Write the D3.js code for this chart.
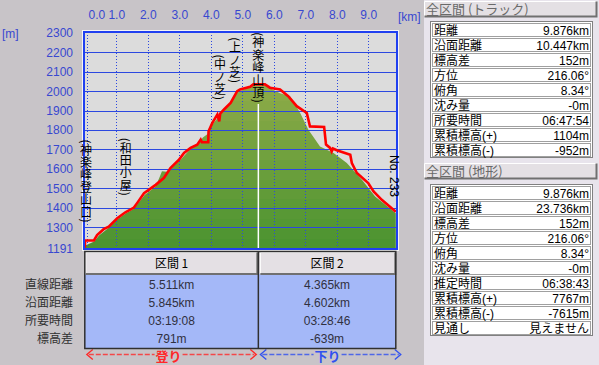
<!DOCTYPE html>
<html>
<head>
<meta charset="utf-8">
<script src="https://cdn.jsdelivr.net/npm/d3@7"></script>
<style>
  body { margin: 0; background: #c8c4c8; overflow: hidden; }
  text { font-family: "Noto Sans CJK JP", sans-serif; font-size: 12px; }
  .num { font-family: "Liberation Sans", Arial, sans-serif; }
  .cell { font-family: "Liberation Sans", "Noto Sans CJK JP", sans-serif; }
  .vert { writing-mode: vertical-rl; text-orientation: mixed; }
</style>
</head>
<body>
<div id="chart"></div>
<script>
const width = 599, height = 365;

// axis ticks
const kmTicks = [0, 1, 2, 3, 4, 5, 6, 7, 8, 9];
const elevTicks = [1191, 1300, 1400, 1500, 1600, 1700, 1800, 1900, 2000, 2100, 2200, 2300];
const totalKm = 9.876;

// GPS track (km, m)
const trackKm = [0, 0.01, 0.29, 0.39, 0.6, 0.76, 1.03, 1.29, 1.56, 1.66, 1.88, 2.03, 2.25, 2.51, 2.72, 2.99,
  3.15, 3.36, 3.57, 3.68, 3.72, 3.92, 3.93, 4.05, 4.21, 4.27, 4.3, 4.42, 4.63, 4.84, 4.93, 5.25, 5.35, 5.72,
  5.88, 6.2, 6.46, 6.73, 7.05, 7.15, 7.6, 7.66, 7.79, 7.84, 7.88, 8.0, 8.43, 8.48, 8.64, 9.0, 9.17, 9.43, 9.876];
const trackElev = [1195, 1232, 1232, 1260, 1290, 1303, 1346, 1377, 1401, 1424, 1475, 1492, 1518, 1553, 1604, 1647,
  1682, 1708, 1725, 1751, 1737, 1737, 1794, 1837, 1880, 1845, 1885, 1906, 1940, 2000, 2009, 2023, 2035, 2035,
  2018, 2009, 1974, 1923, 1888, 1819, 1816, 1725, 1708, 1690, 1705, 1696, 1673, 1630, 1579, 1527, 1484, 1441, 1380];

// terrain profile (km, m)
const groundKm = [0, 0.3, 0.45, 0.75, 1.0, 1.3, 1.55, 1.9, 2.25, 2.38, 2.45, 2.6, 2.72, 3.0, 3.35, 3.6, 3.75,
  3.9, 4.05, 4.4, 4.6, 4.85, 5.1, 5.35, 5.7, 5.95, 6.2, 6.52, 6.68, 6.84, 7.1, 7.47, 7.9, 8.32, 8.8, 9.22, 9.876];
const groundElev = [1205, 1226, 1258, 1296, 1336, 1370, 1394, 1466, 1510, 1560, 1588, 1586, 1598, 1640, 1702, 1728, 1762,
  1780, 1828, 1898, 1933, 1993, 2012, 2030, 2030, 2010, 1990, 1974, 1931, 1888, 1802, 1716, 1682, 1630, 1544, 1458, 1372];

// waypoints
const pointNames = ["(神楽峰登山口)", "(和田小屋)", "(中ノ芝)", "(上ノ芝)", "(神楽峰山頂)"];
const pointKm = [0.04, 1.3, 4.29, 4.77, 5.511];
const pointTop = [1751, 1761, 2189, 2277, 2303];
const splitKm = 5.511;
const endLabel = "No. 233";

// right panel
const trackTitle = "全区間 (トラック)";
const trackRows = ["距離", "沿面距離", "標高差", "方位", "俯角", "沈み量", "所要時間", "累積標高(+)", "累積標高(-)"];
const trackVals = ["9.876km", "10.447km", "152m", "216.06°", "8.34°", "-0m", "06:47:54", "1104m", "-952m"];
const groundTitle = "全区間 (地形)";
const groundRows = ["距離", "沿面距離", "標高差", "方位", "俯角", "沈み量", "推定時間", "累積標高(+)", "累積標高(-)", "見通し"];
const groundVals = ["9.876km", "23.736km", "152m", "216.06°", "8.34°", "-0m", "06:38:43", "7767m", "-7615m", "見えません"];

// section table
const sectionNames = ["区間 1", "区間 2"];
const sectionStart = [0, 5.511];
const sectionEnd = [5.511, totalKm];
const sectionRows = ["直線距離", "沿面距離", "所要時間", "標高差"];
const section1Vals = ["5.511km", "5.845km", "03:19:08", "791m"];
const section2Vals = ["4.365km", "4.602km", "03:28:46", "-639m"];
const sectionDirs = ["登り", "下り"];
const sectionColors = ["#ff2828", "#3050f0"];

const blue = "#2c48e0";
const tickBlue = "#3848d0";

const svg = d3.select("#chart").append("svg")
  .attr("width", width)
  .attr("height", height)
  .style("display", "block");

svg.append("rect").attr("width", width).attr("height", height).attr("fill", "#c8c4c8");

const xScale = d3.scaleLinear().domain([0, totalKm]).range([84.8, 395.8]);
const yScale = d3.scaleLinear().domain([1191, 2300]).range([248.4, 32.9]);

const plotL = 84, plotR = 397, plotT = 32, plotB = 249;

// plot background
svg.append("rect")
  .attr("x", plotL - 1.5).attr("y", plotT - 1.5)
  .attr("width", plotR - plotL + 3).attr("height", plotB - plotT + 3)
  .attr("fill", "none").attr("stroke", "#f4f4f4");
svg.append("rect")
  .attr("x", plotL).attr("y", plotT)
  .attr("width", plotR - plotL).attr("height", plotB - plotT)
  .attr("fill", "#dcdcdc");

svg.append("clipPath").attr("id", "plotclip")
  .append("rect").attr("x", plotL).attr("y", plotT).attr("width", plotR - plotL).attr("height", plotB - plotT);

// stepped green bands
const defs = svg.append("defs");
const grad = defs.append("linearGradient")
  .attr("id", "greenBands")
  .attr("gradientUnits", "userSpaceOnUse")
  .attr("x1", 0).attr("x2", 0)
  .attr("y1", yScale(2100)).attr("y2", yScale(1191));
const nBands = 18;
const bandColor = d3.interpolateRgb("#92ac4a", "#4c9430");
d3.range(nBands).forEach(i => {
  const c = bandColor(i / (nBands - 1));
  grad.append("stop").attr("offset", i / nBands).attr("stop-color", c);
  grad.append("stop").attr("offset", (i + 1) / nBands).attr("stop-color", c);
});

const plot = svg.append("g").attr("clip-path", "url(#plotclip)");

const ground = groundKm.map((k, i) => ({ km: k, elev: groundElev[i] }));
const track = trackKm.map((k, i) => ({ km: k, elev: trackElev[i] }));

plot.append("path")
  .datum(ground)
  .attr("fill", "url(#greenBands)")
  .attr("d", d3.area()
    .x(d => xScale(d.km))
    .y0(yScale(1191))
    .y1(d => yScale(d.elev)));

// gridlines
plot.selectAll(".hgrid")
  .data(elevTicks.filter(d => d > 1191 && d < 2300))
  .join("line")
  .attr("x1", plotL).attr("x2", plotR)
  .attr("y1", d => Math.round(yScale(d)) + 0.5)
  .attr("y2", d => Math.round(yScale(d)) + 0.5)
  .attr("stroke", blue).attr("stroke-width", 1.2);

plot.selectAll(".vgrid")
  .data(kmTicks)
  .join("line")
  .attr("x1", d => Math.round(xScale(d)) + 0.5 + (d === 0 ? 2 : 0))
  .attr("x2", d => Math.round(xScale(d)) + 0.5 + (d === 0 ? 2 : 0))
  .attr("y1", plotT).attr("y2", plotB)
  .attr("stroke", blue).attr("stroke-width", 1)
  .attr("stroke-dasharray", "1,2");

// split marker
plot.append("line")
  .attr("x1", xScale(splitKm)).attr("x2", xScale(splitKm))
  .attr("y1", 104).attr("y2", plotB)
  .attr("stroke", "#ffffff").attr("stroke-width", 1.5);

// track
plot.append("path")
  .datum(track)
  .attr("fill", "none")
  .attr("stroke", "#ff0000")
  .attr("stroke-width", 2.6)
  .attr("stroke-linejoin", "miter")
  .attr("d", d3.line().x(d => xScale(d.km)).y(d => yScale(d.elev)));

// border
svg.append("rect")
  .attr("x", plotL).attr("y", plotT)
  .attr("width", plotR - plotL).attr("height", plotB - plotT)
  .attr("fill", "none").attr("stroke", "#2040f0").attr("stroke-width", 2);

// vertical waypoint labels
svg.selectAll(".waypoint")
  .data(pointNames)
  .join("text")
  .attr("class", "waypoint vert")
  .attr("x", (d, i) => xScale(pointKm[i]))
  .attr("y", (d, i) => yScale(pointTop[i]))
  .attr("fill", "#000")
  .style("font-size", "12px")
  .style("letter-spacing", "0.4px")
  .text(d => d);

svg.append("text")
  .attr("class", "num vert")
  .attr("x", xScale(totalKm) - 2)
  .attr("y", 155)
  .attr("fill", "#000")
  .text(endLabel);

// axes
const xAxis = d3.axisTop(xScale)
  .tickValues(kmTicks)
  .tickSize(0)
  .tickFormat(d3.format(".1f"));
const xAxisGroup = svg.append("g")
  .attr("transform", `translate(0, 12)`)
  .call(xAxis);
xAxisGroup.select(".domain").remove();
xAxisGroup.selectAll("text")
  .attr("class", "num")
  .attr("fill", tickBlue)
  .style("font-size", "12px")
  .attr("y", 0).attr("dy", "0.6em");
xAxisGroup.selectAll(".tick").filter(d => d === 0)
  .select("text").attr("dx", 11.5);

svg.append("text")
  .attr("class", "num")
  .attr("x", 398).attr("y", 21)
  .attr("fill", tickBlue)
  .text("[km]");

const yAxis = d3.axisLeft(yScale)
  .tickValues(elevTicks)
  .tickSize(0)
  .tickFormat(d3.format("d"));
const yAxisGroup = svg.append("g")
  .attr("transform", `translate(73, 0)`)
  .call(yAxis);
yAxisGroup.select(".domain").remove();
yAxisGroup.selectAll("text")
  .attr("class", "num")
  .attr("fill", tickBlue)
  .style("font-size", "12px")
  .attr("x", 0);

svg.append("text")
  .attr("class", "num")
  .attr("x", 2).attr("y", 38)
  .attr("fill", tickBlue)
  .text("[m]");

// raised button helper
function button(x, y, w, h) {
  svg.append("rect").attr("x", x).attr("y", y).attr("width", w).attr("height", h).attr("fill", "#e4e0e4");
  svg.append("path")
    .attr("d", `M${x + 0.5},${y + h - 0.5}V${y + 0.5}H${x + w - 0.5}`)
    .attr("fill", "none").attr("stroke", "#ffffff");
  svg.append("path")
    .attr("d", `M${x + 0.5},${y + h - 0.5}H${x + w - 0.5}V${y + 0.5}`)
    .attr("fill", "none").attr("stroke", "#707070").attr("stroke-width", 2);
}

// right panel
svg.append("rect").attr("x", 424).attr("y", 0).attr("width", 175).attr("height", height).attr("fill", "#e8e4ec");

function infoTable(title, rows, vals, y0, tableY) {
  button(424, y0, 173, 16);
  svg.append("text")
    .attr("x", 426).attr("y", y0 + 13)
    .attr("fill", "#6a6a6a")
    .style("font-size", "13px")
    .text(title);
  const rowH = 15;
  const g = svg.append("g");
  g.append("rect")
    .attr("x", 430.5).attr("y", tableY - 0.5)
    .attr("width", 162).attr("height", rows.length * rowH + 1)
    .attr("fill", "#ffffff").attr("stroke", "#808080");
  rows.forEach((r, i) => {
    const ry = tableY + i * rowH;
    g.append("rect")
      .attr("x", 432.5).attr("y", ry + 1.5)
      .attr("width", 158).attr("height", rowH - 2)
      .attr("fill", "#ffffff").attr("stroke", "#a0a0a0");
    g.append("text").attr("class", "cell").attr("x", 434).attr("y", ry + 12.5).attr("fill", "#000").text(r);
    g.append("text").attr("class", "cell").attr("x", 589).attr("y", ry + 12.5).attr("text-anchor", "end").attr("fill", "#000").text(vals[i]);
  });
}
infoTable(trackTitle, trackRows, trackVals, 1, 22);
infoTable(groundTitle, groundRows, groundVals, 163, 185);

// section table
const tTop = 251.5, headH = 22.5, tBottom = 348.5;
sectionNames.forEach((name, i) => {
  const x0 = xScale(sectionStart[i]), x1 = xScale(sectionEnd[i]);
  svg.append("rect").attr("x", x0).attr("y", tTop + headH).attr("width", x1 - x0).attr("height", tBottom - tTop - headH).attr("fill", "#a4b8f8");
  button(x0 + (i ? 1.5 : 0.5), tTop + 0.5, x1 - x0 - (i ? 1.5 : 1), headH);
  svg.append("text")
    .attr("x", (x0 + x1) / 2).attr("y", tTop + 16)
    .attr("text-anchor", "middle").attr("fill", "#000")
    .text(name);
  const vals = i === 0 ? section1Vals : section2Vals;
  vals.forEach((v, j) => {
    svg.append("text")
      .attr("class", "cell")
      .attr("x", (x0 + x1) / 2).attr("y", 289 + j * 18)
      .attr("text-anchor", "middle").attr("fill", "#303040")
      .text(v);
  });

  // direction arrows
  const ay = 354.5, c = sectionColors[i];
  const ax0 = x0 + 2, ax1 = i === 0 ? x1 - 2 : x1 + 5;
  const mid = (ax0 + ax1) / 2 - 3;
  const ag = svg.append("g").attr("stroke", c).attr("fill", "none").attr("stroke-width", 1.3);
  ag.append("polyline").attr("points", `${ax0 + 6},${ay - 5} ${ax0},${ay} ${ax0 + 6},${ay + 5}`);
  ag.append("polyline").attr("points", `${ax1 - 6},${ay - 5} ${ax1},${ay} ${ax1 - 6},${ay + 5}`);
  ag.append("line").attr("x1", ax0 + 2).attr("x2", mid - 14).attr("y1", ay).attr("y2", ay).attr("stroke-dasharray", "5,2").attr("opacity", 0.8);
  ag.append("line").attr("x1", mid + 14).attr("x2", ax1 - 2).attr("y1", ay).attr("y2", ay).attr("stroke-dasharray", "5,2").attr("opacity", 0.8);
  svg.append("text")
    .attr("x", mid).attr("y", 361)
    .attr("text-anchor", "middle").attr("fill", c)
    .style("font-size", "13px").style("font-weight", "bold")
    .text(sectionDirs[i]);
});

svg.append("rect")
  .attr("x", xScale(0)).attr("y", tTop)
  .attr("width", xScale(totalKm) - xScale(0)).attr("height", tBottom - tTop)
  .attr("fill", "none").attr("stroke", "#303030").attr("stroke-width", 1.5);
svg.append("line")
  .attr("x1", xScale(splitKm)).attr("x2", xScale(splitKm))
  .attr("y1", tTop).attr("y2", tBottom)
  .attr("stroke", "#303030").attr("stroke-width", 1.5);

sectionRows.forEach((r, j) => {
  svg.append("text")
    .attr("x", 73).attr("y", 289 + j * 18)
    .attr("text-anchor", "end").attr("fill", "#303030")
    .text(r);
});
</script>
</body>
</html>
